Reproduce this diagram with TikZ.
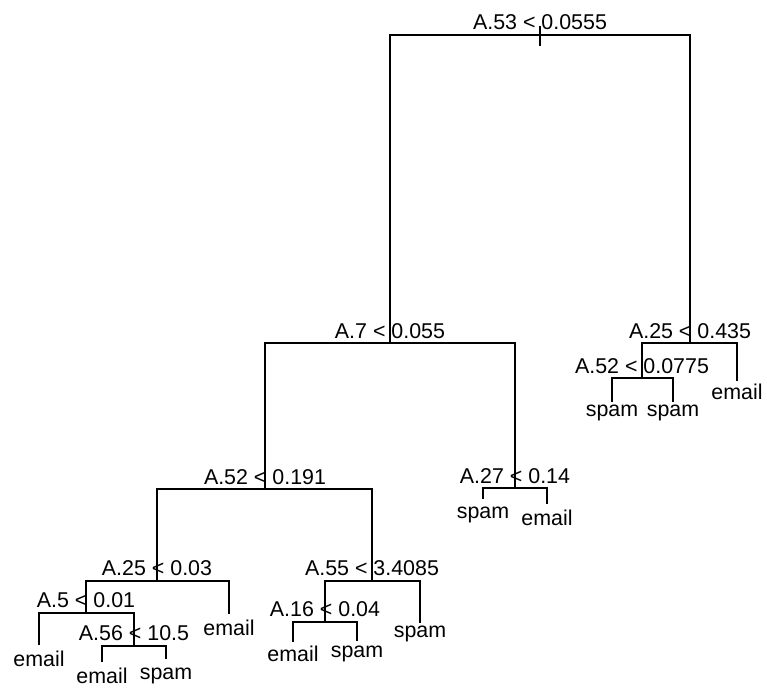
\documentclass[tikz,border=0pt]{standalone}
\usepackage{fontspec}
\setmainfont{Liberation Sans}
\begin{document}
\begin{tikzpicture}[x=1bp,y=-1bp,
  every node/.style={font=\fontsize{21.4bp}{24bp}\selectfont, inner sep=0pt, outer sep=0pt},
  splitlab/.style={anchor=base},
  leaflab/.style={anchor=base, yshift=-1.5bp},
  branch/.style={line width=1.8bp, line cap=rect}]
\useasboundingbox (0,0) rectangle (767,688);
% tree points
\coordinate (n1) at (540,35);
\coordinate (n2) at (390,343);
\coordinate (n3) at (690,343);
\coordinate (n4) at (265,489);
\coordinate (n5) at (515,488);
\coordinate (n6) at (642,378);
\coordinate (L7) at (737,380);
\coordinate (n8) at (157,581);
\coordinate (n9) at (372,581);
\coordinate (L10) at (483,498);
\coordinate (L11) at (547,503);
\coordinate (L12) at (612,401);
\coordinate (L13) at (673,401);
\coordinate (n16) at (86,613);
\coordinate (L17) at (229,613);
\coordinate (n18) at (325,622);
\coordinate (L19) at (420,622);
\coordinate (L32) at (39,644);
\coordinate (n33) at (134,646);
\coordinate (L36) at (293,641);
\coordinate (L37) at (357,640);
\coordinate (L66) at (102,661);
\coordinate (L67) at (166,658);
% branches
\draw[branch] ([yshift=8bp]n1) -- ([yshift=-10bp]n1);
\draw[branch] (n1) -| (n2);
\draw[branch] (n1) -| (n3);
\draw[branch] (n2) -| (n4);
\draw[branch] (n2) -| (n5);
\draw[branch] (n3) -| (n6);
\draw[branch] (n3) -| (L7);
\draw[branch] (n4) -| (n8);
\draw[branch] (n4) -| (n9);
\draw[branch] (n5) -| (L10);
\draw[branch] (n5) -| (L11);
\draw[branch] (n6) -| (L12);
\draw[branch] (n6) -| (L13);
\draw[branch] (n8) -| (n16);
\draw[branch] (n8) -| (L17);
\draw[branch] (n9) -| (n18);
\draw[branch] (n9) -| (L19);
\draw[branch] (n16) -| (L32);
\draw[branch] (n16) -| (n33);
\draw[branch] (n18) -| (L36);
\draw[branch] (n18) -| (L37);
\draw[branch] (n33) -| (L66);
\draw[branch] (n33) -| (L67);
% split labels
\node[splitlab] (s1) at ([yshift=5bp]n1) {A.53 < 0.0555};
\node[splitlab] (s2) at ([yshift=4.5bp]n2) {A.7 < 0.055};
\node[splitlab] (s3) at ([yshift=5bp]n3) {A.25 < 0.435};
\node[splitlab] (s4) at ([yshift=5bp]n4) {A.52 < 0.191};
\node[splitlab] (s5) at ([yshift=5bp]n5) {A.27 < 0.14};
\node[splitlab] (s6) at ([yshift=5bp]n6) {A.52 < 0.0775};
\node[splitlab] (s8) at ([yshift=5.5bp]n8) {A.25 < 0.03};
\node[splitlab] (s9) at ([yshift=5.5bp]n9) {A.55 < 3.4085};
\node[splitlab] (s16) at ([yshift=6bp]n16) {A.5 < 0.01};
\node[splitlab] (s18) at ([yshift=6bp]n18) {A.16 < 0.04};
\node[splitlab] (s33) at ([yshift=6bp]n33) {A.56 < 10.5};
% leaf labels
\node[leaflab] (t7) at (737,398) {email};
\node[leaflab] (t10) at (483,517) {spam};
\node[leaflab] (t11) at (547,524) {email};
\node[leaflab] (t12) at (612,415) {spam};
\node[leaflab] (t13) at (673,415) {spam};
\node[leaflab] (t17) at (229,634) {email};
\node[leaflab] (t19) at (420,636) {spam};
\node[leaflab] (t32) at (39,665) {email};
\node[leaflab] (t36) at (293,660) {email};
\node[leaflab] (t37) at (357,656) {spam};
\node[leaflab] (t66) at (102,682) {email};
\node[leaflab] (t67) at (166,678) {spam};
\end{tikzpicture}
\end{document}
